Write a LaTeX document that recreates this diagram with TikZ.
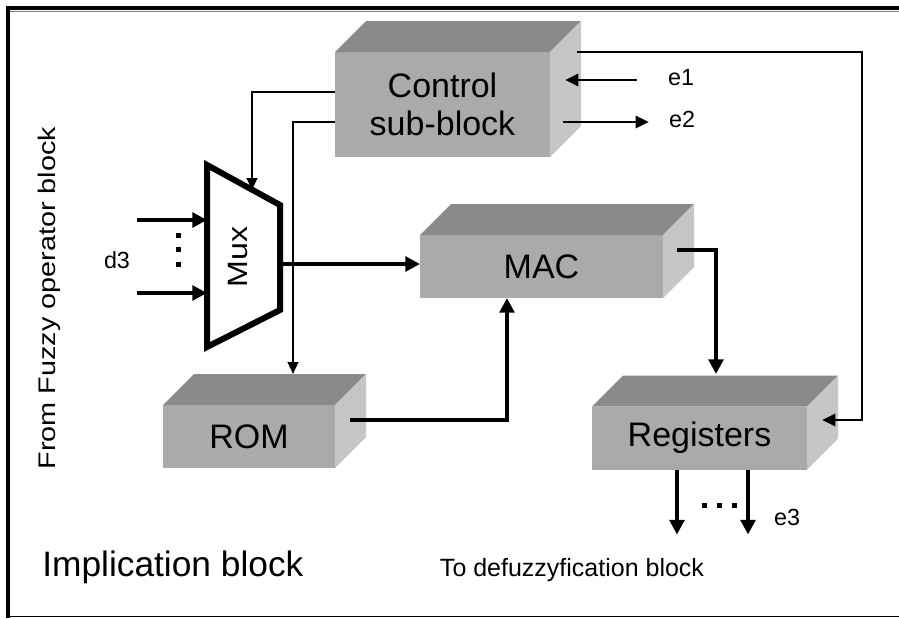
\documentclass[tikz,border=0pt]{standalone}
\usepackage{fontspec}
\usepackage{graphicx}
\setmainfont{Liberation Sans}
\usetikzlibrary{positioning,%
	arrows.meta%
}
\definecolor{frontgray}{HTML}{AAAAAA}
\definecolor{topgray}{HTML}{8A8A8A}
\definecolor{sidegray}{HTML}{C6C6C6}
\newcommand{\blockfont}{\fontsize{25.5}{28}\selectfont}
\newcommand{\labelfont}{\fontsize{17.5}{20}\selectfont}

\begin{document}
\begin{tikzpicture}[x=0.75pt, y=-0.75pt]
	\useasboundingbox (0,0) rectangle (899,618);
	% frame
	\draw[line width=3pt] (8,618) -- (8,8) -- (899,8);
	\draw[gray, line width=1.2pt] (10,11.5) -- (899,11.5);
	\draw[line width=0.8pt] (8,616.5) -- (899,616.5);
	
	\begin{scope}[every node/.style={fill=frontgray, inner sep=0pt, outer sep=0pt, align=center, font=\blockfont}]
	\node[minimum width=161.25pt, minimum height=78.75pt] (ctrl) at (442.5,104.5) {Control\\sub-block};
	\node[minimum width=182.25pt, minimum height=47.25pt] (mac) at (541.5,266.5) {MAC};
	\node[minimum width=129pt, minimum height=47.25pt] (rom) at (249,436.5) {ROM};
	\node[minimum width=161.25pt, minimum height=47.25pt] (reg) at (699.5,438) {Registers};
	\end{scope}
	\foreach \b in {ctrl,mac,rom,reg}{
		\fill[topgray] (\b.north west) -- ++(31,-31) -- ([shift={(31,-31)}]\b.north east) -- (\b.north east) -- cycle;
		\fill[sidegray] (\b.north east) -- ([shift={(31,-31)}]\b.north east) -- ([shift={(31,-31)}]\b.south east) -- (\b.south east) -- cycle;
	}
	
	% multiplexer
	\coordinate (mux nw) at (207,165);
	\coordinate (mux ne) at (280,205);
	\coordinate (mux se) at (280,310);
	\coordinate (mux sw) at (207,347);
	\draw[line width=4.5pt] (mux nw) -- (mux ne) -- (mux se) -- (mux sw) -- cycle;
	\node[rotate=90, font=\fontsize{21}{24}\selectfont] (mux) at (238,257) {\scalebox{1.15}[1]{Mux}};
	
	\coordinate (sel) at (252,190);
	\coordinate (rom in) at (293,374);
	\coordinate (e1 out) at (637,80);
	\coordinate (e1 in) at (565,80);
	\coordinate (e2 out) at (563,122);
	\coordinate (e2 in) at (649,122);
	\coordinate (fb out) at (577,52);
	\coordinate (fb turn) at (862,300);
	\coordinate (fb in) at (822,420);
	\coordinate (mux out) at (280,264);
	\coordinate (rom out) at (350,420);
	\coordinate (mac out) at (677,250);
	\coordinate (reg in) at (716,374);
	\coordinate (d1) at (137,220);
	\coordinate (d2) at (137,293);
	
	\begin{scope}[every path/.style={draw, line width=1.5pt, -{Triangle[length=9pt, width=8pt]}}]
	\path ([yshift=9.4pt]ctrl.west) -| (sel);
	\path ([yshift=-13.1pt]ctrl.west) -| (rom in);
	\end{scope}
	\begin{scope}[every path/.style={draw, line width=2.2pt, -{Triangle[length=10pt, width=9pt]}}]
	\path (e1 out) -- (e1 in);
	\path (e2 out) -- (e2 in);
	\path (fb out) -| (fb turn) |- (fb in);
	\end{scope}
	\begin{scope}[every path/.style={draw, line width=3.6pt, -{Triangle[length=11pt, width=11pt]}}]
	\path (mux out) -- (mux out -| mac.west);
	\path (rom out) -| ([xshift=-25.9pt]mac.south);
	\path (mac out) -| (reg in);
	\path ([xshift=-16.9pt]reg.south) -- ++(0,65);
	\path ([xshift=36.4pt]reg.south) -- ++(0,65);
	\path[line width=3pt] (d1) -- (d1 -| mux nw);
	\path[line width=3pt] (d2) -- (d2 -| mux nw);
	\end{scope}
	
	% dots
	\foreach \y in {233,247,262} \fill (176,\y) rectangle ++(5,5);
	\foreach \x in {702,717,732} \fill (\x,503) rectangle ++(5,5);
	
	\begin{scope}[every node/.style={font=\labelfont, inner sep=0pt}]
	\node[anchor=base] (e1) at (681,85) {e1};
	\node[anchor=base] (e2) at (682,127) {e2};
	\node[anchor=base] (e3) at (787,525) {e3};
	\node[anchor=base] (d3) at (117,268) {d3};
	\end{scope}
	\node[anchor=base, inner sep=0pt, font=\fontsize{18.75}{22}\selectfont] (todef) at (572,576) {To defuzzyfication block};
	\node[anchor=base west, inner sep=0pt, font=\fontsize{26.5}{30}\selectfont] (impl) at (42,576) {Implication block};
	\node[rotate=90, inner sep=0pt, font=\fontsize{18}{21}\selectfont] (from) at (49,298) {\scalebox{1.2}[1]{From Fuzzy operator block}};
\end{tikzpicture}
\end{document}
